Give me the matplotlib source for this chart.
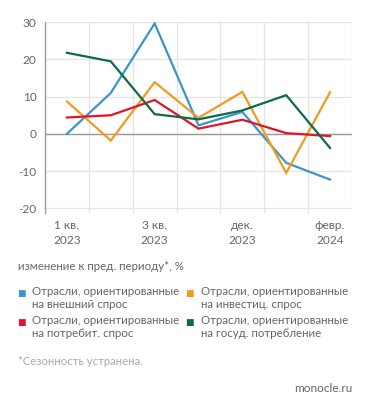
import matplotlib
matplotlib.use("Agg")
import matplotlib.pyplot as plt
from matplotlib.ticker import FixedLocator

plt.rcParams['font.family'] = ['Lato', 'Open Sans', 'DejaVu Sans']
plt.rcParams['axes.unicode_minus'] = False

periods = ["1 кв.\n2023", "2 кв.\n2023", "3 кв.\n2023", "4 кв.\n2023",
           "дек.\n2023", "янв.\n2024", "февр.\n2024"]
shown_labels = ["1 кв.\n2023", "", "3 кв.\n2023", "", "дек.\n2023", "", "февр.\n2024"]

external = [0.0, 11.0, 29.7, 2.3, 5.9, -7.8, -12.3]
investment = [8.7, -1.8, 13.9, 4.3, 11.3, -10.5, 11.2]
consumer = [4.4, 5.0, 9.1, 1.4, 3.8, 0.2, -0.6]
government = [21.8, 19.5, 5.3, 3.9, 6.3, 10.4, -3.8]

names = ["Отрасли, ориентированные\nна внешний спрос",
         "Отрасли, ориентированные\nна инвестиц. спрос",
         "Отрасли, ориентированные\nна потребит. спрос",
         "Отрасли, ориентированные\nна госуд. потребление"]
colors = ["#3a96c9", "#f5981f", "#e0142b", "#0c6b46"]
series = [external, investment, consumer, government]

subtitle = "изменение к пред. периоду*, %"
footnote = "*Сезонность устранена."
source = "monocle.ru"

W, H = 371, 411
fig = plt.figure(figsize=(W / 100, H / 100), dpi=100)
ax = fig.add_axes([45 / W, 1 - 212.7 / H, (352 - 45) / W, (212.7 - 22.3) / H])

x = list(range(len(periods)))
order = [3, 0, 1, 2]
for i in order:
    ax.plot(x, series[i], color=colors[i], lw=1.6, solid_joinstyle='miter', zorder=3 + i)

ax.set_xlim(-0.5, 6.5)
ax.set_ylim(-21.2, 30)
ax.yaxis.set_major_locator(FixedLocator([-20, -10, 0, 10, 20, 30]))
ax.set_xticks(x)
ax.set_xticklabels(shown_labels)
ax.xaxis.set_minor_locator(FixedLocator([0.5, 1.5, 2.5, 3.5, 4.5, 5.5, 6.49]))

ax.grid(True, which='major', axis='y', color='#e4e4e4', lw=0.9, zorder=0)
ax.grid(True, which='minor', axis='x', color='#e4e4e4', lw=0.9, zorder=0)
ax.axhline(0, color='#9a9a9a', lw=1.0, zorder=2)

for s in ['top', 'right', 'bottom']:
    ax.spines[s].set_visible(False)
ax.spines['left'].set_color('#9a9a9a')
ax.spines['left'].set_linewidth(1.0)

ax.tick_params(axis='both', which='both', length=0, colors='#666666', labelsize=8.6)
ax.tick_params(axis='y', pad=6)
ax.tick_params(axis='x', pad=5.5)
for lbl in ax.get_xticklabels():
    lbl.set_linespacing(1.45)

text_color = '#666666'
fig.text(18 / W, 1 - 266 / H, subtitle, fontsize=8.3, color=text_color, va='center', ha='left')

rows = [(0, 21, 32, 293), (1, 189, 201, 293), (2, 21, 32, 322), (3, 189, 201, 322)]
for i, mx, tx, ty in rows:
    fig.text(mx / W, 1 - ty / H, "■", fontsize=6.5, color=colors[i], va='center', ha='center',
             family=['DejaVu Sans'])
    fig.text(tx / W, 1 - (ty - 7) / H, names[i], fontsize=8.3, color=text_color,
             va='top', ha='left', linespacing=1.2)

fig.text(18 / W, 1 - 361 / H, footnote, fontsize=8.2, color='#aaaaaa', va='center', ha='left')
fig.text(352 / W, 1 - 388 / H, source, fontsize=8.5, color='#666666', va='center', ha='right')

fig.savefig("out.png", dpi=100)
